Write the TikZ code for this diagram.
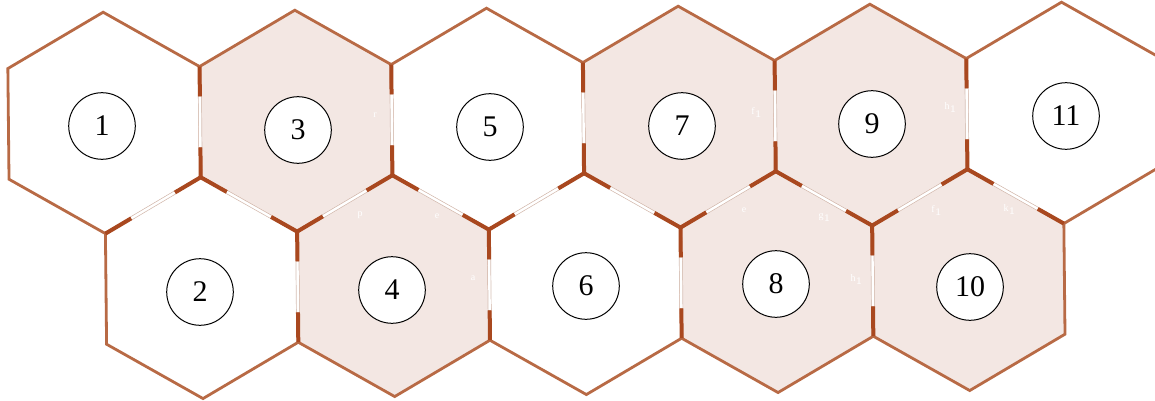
\documentclass[tikz,border=0pt]{standalone}
\usepackage{fontspec}
\setmainfont{Liberation Serif}
\usepackage{tikz}
\usetikzlibrary{calc}
\definecolor{edgebrown}{HTML}{B86A45}
\definecolor{darkbrown}{HTML}{A9481F}
\definecolor{cellpink}{HTML}{F3E7E3}
\definecolor{gapline}{HTML}{D6BFB4}
\tikzset{
  outeredge/.style={draw=edgebrown, line width=1.4pt, line join=miter},
  gapmid/.style={draw=gapline, double=white, line width=0.35pt, double distance=1.2pt},
  gapend/.style={draw=darkbrown, line width=2pt},
  numcirc/.style={circle, draw=black, line width=0.5pt, fill=white, minimum size=33.3pt,
    inner sep=0pt, font=\fontsize{15}{18}\selectfont},
  faintlbl/.style={font=\fontsize{5}{6}\selectfont, text=white}
}

\begin{document}
\begin{tikzpicture}[x=0.5pt, y=0.5pt]
  \useasboundingbox (0,0) rectangle (1155,-401);
  \clip (0,0) rectangle (1155,-401);
  \def\R{110.7}
  \begin{scope}[rotate=0.6]
    % cell centres and corners
    \foreach \n/\x/\y/\col in {1/103/-124/white, 3/294.7/-124/cellpink, 5/486.4/-124/white,
        7/678.1/-124/cellpink, 9/869.8/-124/cellpink, 11/1061.5/-124/white,
        2/198.85/-290/white, 4/390.55/-290/cellpink, 6/582.25/-290/white,
        8/773.95/-290/cellpink, 10/965.65/-290/cellpink}{
      \coordinate (h\n) at (\x,\y);
      \foreach \a [count=\j] in {30,90,...,330}
        \coordinate (h\n-\j) at ($(\x,\y)+(\a:\R)$);
      \fill[\col] (h\n-1) -- (h\n-2) -- (h\n-3) -- (h\n-4) -- (h\n-5) -- (h\n-6) -- cycle;}
    % outlines
    \foreach \n in {1,...,11}
      \draw[outeredge] (h\n-1) -- (h\n-2) -- (h\n-3) -- (h\n-4) -- (h\n-5) -- (h\n-6) -- cycle;
    % shared sides: dark ends, thin gap in the middle
    \foreach \p/\q in {h1-6/h1-1, h3-6/h3-1, h5-6/h5-1, h7-6/h7-1, h9-6/h9-1,
        h1-5/h1-6, h3-5/h3-6, h5-5/h5-6, h7-5/h7-6, h9-5/h9-6,
        h3-4/h3-5, h5-4/h5-5, h7-4/h7-5, h9-4/h9-5, h11-4/h11-5,
        h2-6/h2-1, h4-6/h4-1, h6-6/h6-1, h8-6/h8-1}{
      \draw[gapmid] ($(\p)!0.27!(\q)$) -- ($(\q)!0.27!(\p)$);
      \draw[gapend] (\p) -- ($(\p)!0.27!(\q)$);
      \draw[gapend] (\q) -- ($(\q)!0.27!(\p)$);}
  \end{scope}
  % faint side labels
  \foreach \x/\y/\t [count=\k] in {375/115/r, 360/215/p, 437/216/e, 473/278/a,
      757/112/f$_1$, 744/210/e, 825/217/g$_1$, 857/280/h$_1$,
      951/108/h$_1$, 937/210/f$_1$, 1010/210/k$_1$}
    \node[faintlbl] (lbl\k) at (\x,-\y) {\t};
  % numbered cells
  \foreach \n/\x/\y in {1/102/126, 2/200/292, 3/298/130, 4/392/290, 5/490/127, 6/586/286,
      7/682/126, 8/776/284, 9/872/124, 10/970/287, 11/1066/116}
    \node[numcirc] (c\n) at (\x,-\y) {\n};
\end{tikzpicture}
\end{document}
